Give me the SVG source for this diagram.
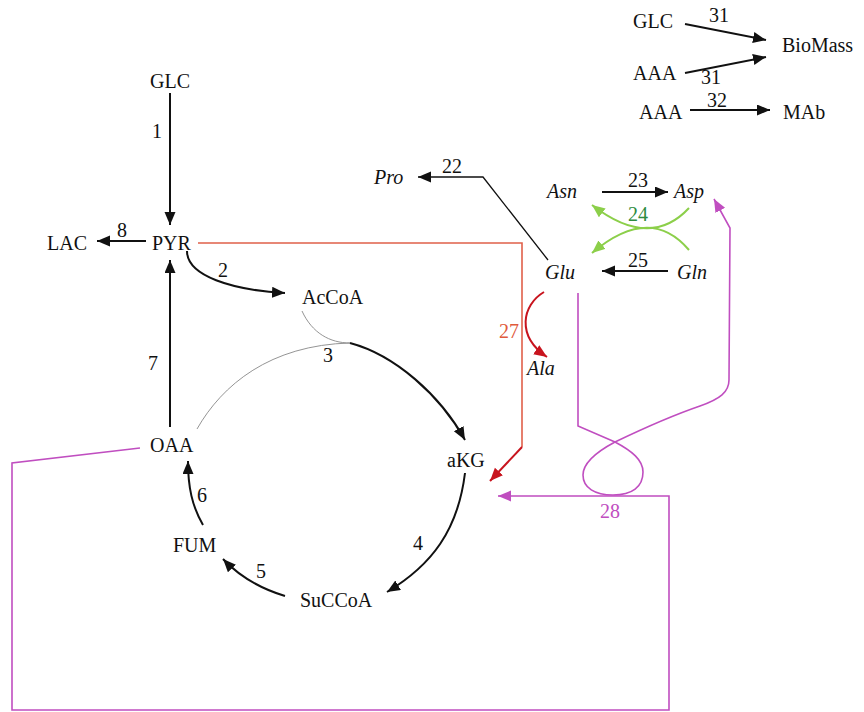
<svg xmlns="http://www.w3.org/2000/svg" width="864" height="712" viewBox="0 0 864 712">
<style>
text{font-family:"Liberation Serif","Times New Roman",serif;font-size:20px;fill:#111}
.i{font-style:italic}
.blk{fill:none;stroke:#111;stroke-width:2}
.thin{fill:none;stroke:#111;stroke-width:1.3}
.grey{fill:none;stroke:#888;stroke-width:0.9}
.red{fill:none;stroke:#e0604a;stroke-width:1.6}
.dred{fill:none;stroke:#c8141e;stroke-width:2}
.pink{fill:none;stroke:#c04ec0;stroke-width:1.6}
.grn{fill:none;stroke:#8ccf4a;stroke-width:2}
.lp{fill:#c04ec0}
.lr{fill:#e05a3c}
.lg{fill:#2e8b3e}
</style>
<defs>
<marker id="ab" markerUnits="userSpaceOnUse" markerWidth="14" markerHeight="12" refX="13" refY="5.5" orient="auto"><path d="M0,0 L13,5.5 L0,11 z" fill="#111"/></marker>
<marker id="ar" markerUnits="userSpaceOnUse" markerWidth="14" markerHeight="12" refX="13" refY="5.5" orient="auto"><path d="M0,0 L13,5.5 L0,11 z" fill="#c8141e"/></marker>
<marker id="ap" markerUnits="userSpaceOnUse" markerWidth="14" markerHeight="12" refX="13" refY="5.5" orient="auto"><path d="M0,0 L13,5.5 L0,11 z" fill="#c04ec0"/></marker>
<marker id="ag" markerUnits="userSpaceOnUse" markerWidth="14" markerHeight="12" refX="13" refY="5.5" orient="auto"><path d="M0,0 L13,5.5 L0,11 z" fill="#8ccf4a"/></marker>
</defs>

<g id="connectors">
<!-- glycolysis -->
<path class="blk" d="M170,93 L170,225" marker-end="url(#ab)"/>
<path class="blk" d="M146,241 L97,241" marker-end="url(#ab)"/>
<path class="blk" d="M187,251 C187,276 232,290 285,293" marker-end="url(#ab)"/>
<path class="blk" d="M170,427 L170,260" marker-end="url(#ab)"/>
<!-- TCA -->
<path class="grey" d="M302,311 C312,333 330,343 350,343"/>
<path class="grey" d="M197,429 C222,385 270,345 350,343"/>
<path class="blk" d="M350,343 C395,355 440,395 465,440" marker-end="url(#ab)"/>
<path class="blk" d="M465,473 C458,530 432,565 387,592" marker-end="url(#ab)"/>
<path class="blk" d="M285,596 C262,589 240,577 223,559" marker-end="url(#ab)"/>
<path class="blk" d="M203,525 C192,506 188,487 188,461" marker-end="url(#ab)"/>
<!-- PYR to aKG red -->
<path class="red" d="M198,243 L522,243 L522,447"/>
<path class="dred" d="M522,447 L490,481" marker-end="url(#ar)"/>
<!-- amino acids -->
<path class="thin" d="M548,260 L483,177 L418,177" marker-end="url(#ab)"/>
<path class="blk" d="M602,192 L668,192" marker-end="url(#ab)"/>
<path class="blk" d="M668,271 L602,271" marker-end="url(#ab)"/>
<path class="grn" d="M689,208 Q650,250 592,205" marker-end="url(#ag)"/>
<path class="grn" d="M689,250 Q650,204 592,253" marker-end="url(#ag)"/>
<path class="dred" d="M544,292 C522,305 516,336 547,357" marker-end="url(#ar)"/>
<!-- pink 28 -->
<path class="pink" d="M578,293 L578,426 L615,442 C632,451 643,460 643,472 C643,487 632,495 613,495 C595,495 583,488 583,475 C583,461 600,450 615,442 C640,430 665,418 700,406 C720,399 729,392 729,380 L730,228 L714,199" marker-end="url(#ap)"/>
<path class="pink" d="M140,448 L12,463 L12,710 L669,710 L669,496 L498,496" marker-end="url(#ap)"/>
<!-- top right -->
<path class="blk" d="M685,24 L766,40" marker-end="url(#ab)"/>
<path class="blk" d="M685,73 L766,57" marker-end="url(#ab)"/>
<path class="blk" d="M690,110 L770,110" marker-end="url(#ab)"/>
</g>

<g id="labels">
<text x="152" y="138">1</text>
<text x="117" y="237">8</text>
<text x="218" y="277">2</text>
<text x="323" y="362">3</text>
<text x="413" y="550">4</text>
<text x="256" y="578">5</text>
<text x="197" y="502">6</text>
<text x="148" y="370">7</text>
<text x="442" y="173">22</text>
<text x="628" y="187">23</text>
<text class="lg" x="628" y="221">24</text>
<text x="628" y="267">25</text>
<text class="lr" x="499" y="338">27</text>
<text class="lp" x="600" y="518">28</text>
<text x="709" y="22">31</text>
<text x="701" y="84">31</text>
<text x="707" y="107">32</text>
</g>

<g id="node-GLC"><text x="150" y="88">GLC</text></g>
<g id="node-PYR"><text x="152" y="250">PYR</text></g>
<g id="node-LAC"><text x="47" y="250">LAC</text></g>
<g id="node-AcCoA"><text x="302" y="304">AcCoA</text></g>
<g id="node-aKG"><text x="447" y="467">aKG</text></g>
<g id="node-SuCCoA"><text x="300" y="607">SuCCoA</text></g>
<g id="node-FUM"><text x="173" y="552">FUM</text></g>
<g id="node-OAA"><text x="150" y="452">OAA</text></g>
<g id="node-Pro"><text class="i" x="374" y="184">Pro</text></g>
<g id="node-Asn"><text class="i" x="547" y="198">Asn</text></g>
<g id="node-Asp"><text class="i" x="674" y="198">Asp</text></g>
<g id="node-Glu"><text class="i" x="545" y="279">Glu</text></g>
<g id="node-Gln"><text class="i" x="677" y="279">Gln</text></g>
<g id="node-Ala"><text class="i" x="527" y="375">Ala</text></g>
<g id="node-GLC2"><text x="633" y="28">GLC</text></g>
<g id="node-BioMass"><text x="782" y="52">BioMass</text></g>
<g id="node-AAA1"><text x="633" y="80">AAA</text></g>
<g id="node-AAA2"><text x="639" y="119">AAA</text></g>
<g id="node-MAb"><text x="783" y="119">MAb</text></g>
</svg>
